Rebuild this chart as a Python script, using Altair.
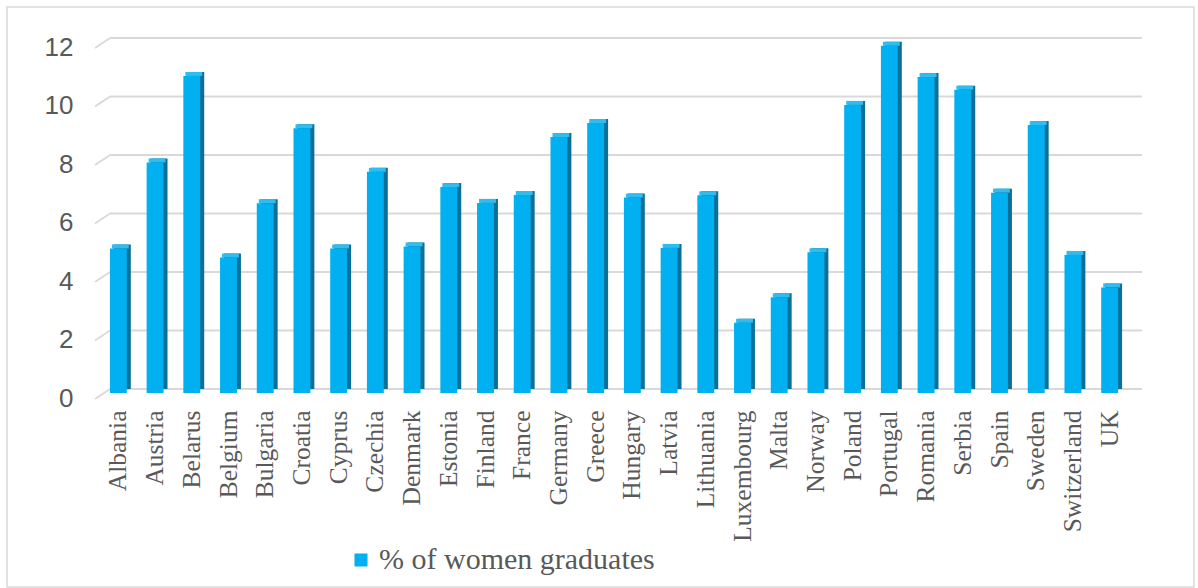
import altair as alt
import pandas as pd

# Share of women graduates by country
countries = [
    "Albania", "Austria", "Belarus", "Belgium", "Bulgaria", "Croatia", "Cyprus",
    "Czechia", "Denmark", "Estonia", "Finland", "France", "Germany", "Greece",
    "Hungary", "Latvia", "Lithuania", "Luxembourg", "Malta", "Norway", "Poland",
    "Portugal", "Romania", "Serbia", "Spain", "Sweden", "Switzerland", "UK",
]
values = [
    4.94, 7.88, 10.84, 4.63, 6.49, 9.05, 4.94,
    7.56, 5.01, 7.04, 6.5, 6.77, 8.75, 9.23,
    6.68, 4.96, 6.76, 2.4, 3.27, 4.81, 9.85,
    11.87, 10.8, 10.37, 6.85, 9.16, 4.72, 3.61,
]
series_name = "% of women graduates"
y_ticks = [0, 2, 4, 6, 8, 10, 12]

df = pd.DataFrame({"country": countries, "value": values, "series": series_name})
ticks_df = pd.DataFrame({"tick": y_ticks})
frame_df = pd.DataFrame({"k": [0]})

FRONT = "#00B0F0"
SIDE = "#0B6F98"
CAP = "#2FBCEE"
GRID = "#D9D9D9"
TEXT = "#595959"

y_scale = alt.Scale(domain=[0, 12], nice=False, zero=True)
y_axis = alt.Axis(
    values=y_ticks, grid=False, domain=False, ticks=False, title=None,
    labelFont="Liberation Sans", labelFontSize=26, labelColor=TEXT,
    labelPadding=27, labelOffset=5,
)
x_scale = alt.Scale(paddingInner=0.54, paddingOuter=0.27)
x_axis = alt.Axis(
    title=None, labelAngle=270, ticks=False, domain=False,
    labelFont="Liberation Serif", labelFontSize=25.5, labelColor=TEXT,
    labelPadding=17,
)

x_enc = alt.X("country:N", sort=countries, scale=x_scale, axis=x_axis)
y_enc = alt.Y("value:Q", scale=y_scale, axis=y_axis)

# back-wall gridlines of the 3-D plot
grid = alt.Chart(ticks_df).mark_rule(color=GRID, strokeWidth=1.8, yOffset=-4).encode(
    x=alt.value(10), x2=alt.value(1042),
    y=alt.Y("tick:Q", scale=y_scale, axis=y_axis),
)
# slanted floor/wall edges on the left of each gridline
slant = alt.Chart(ticks_df).mark_rule(
    color=GRID, strokeWidth=1.8, yOffset=6, y2Offset=-4
).encode(
    x=alt.value(-5), x2=alt.value(10),
    y=alt.Y("tick:Q", scale=y_scale, axis=y_axis), y2="tick:Q",
)

# dark side face of each column
side = alt.Chart(df).mark_bar(color=SIDE, xOffset=4, yOffset=-4, y2Offset=-4).encode(
    x=x_enc, y=y_enc,
)
# lighter top face
cap = alt.Chart(df).mark_bar(color=CAP, xOffset=2, yOffset=-4, y2Offset=0).encode(
    x=x_enc, y=y_enc, y2="value:Q",
)
# front face of each column
front = alt.Chart(df).mark_bar().encode(
    x=x_enc, y=y_enc,
    color=alt.Color(
        "series:N", scale=alt.Scale(range=[FRONT]),
        legend=alt.Legend(
            title=None, orient="none", legendX=246, legendY=503, padding=0,
            symbolType="square", symbolSize=169, symbolStrokeWidth=0,
            labelFont="Liberation Serif", labelFontSize=30, labelColor=TEXT,
            labelOffset=3, labelLimit=600,
        ),
    ),
)

# outer chart frame
frame = alt.Chart(frame_df).mark_rect(fill=None, stroke=GRID, strokeWidth=1.5).encode(
    x=alt.value(-93), x2=alt.value(1094), y=alt.value(-35), y2=alt.value(545),
)

chart = alt.layer(frame, grid, slant, side, cap, front).properties(
    width=1028, height=351,
    autosize=alt.AutoSizeParams(type="none"),
    padding={"left": 100, "top": 42, "right": 70, "bottom": 195},
    background="white",
).configure_view(stroke=None)

chart.save("out.html", embed_options={"renderer": "svg", "actions": False})
